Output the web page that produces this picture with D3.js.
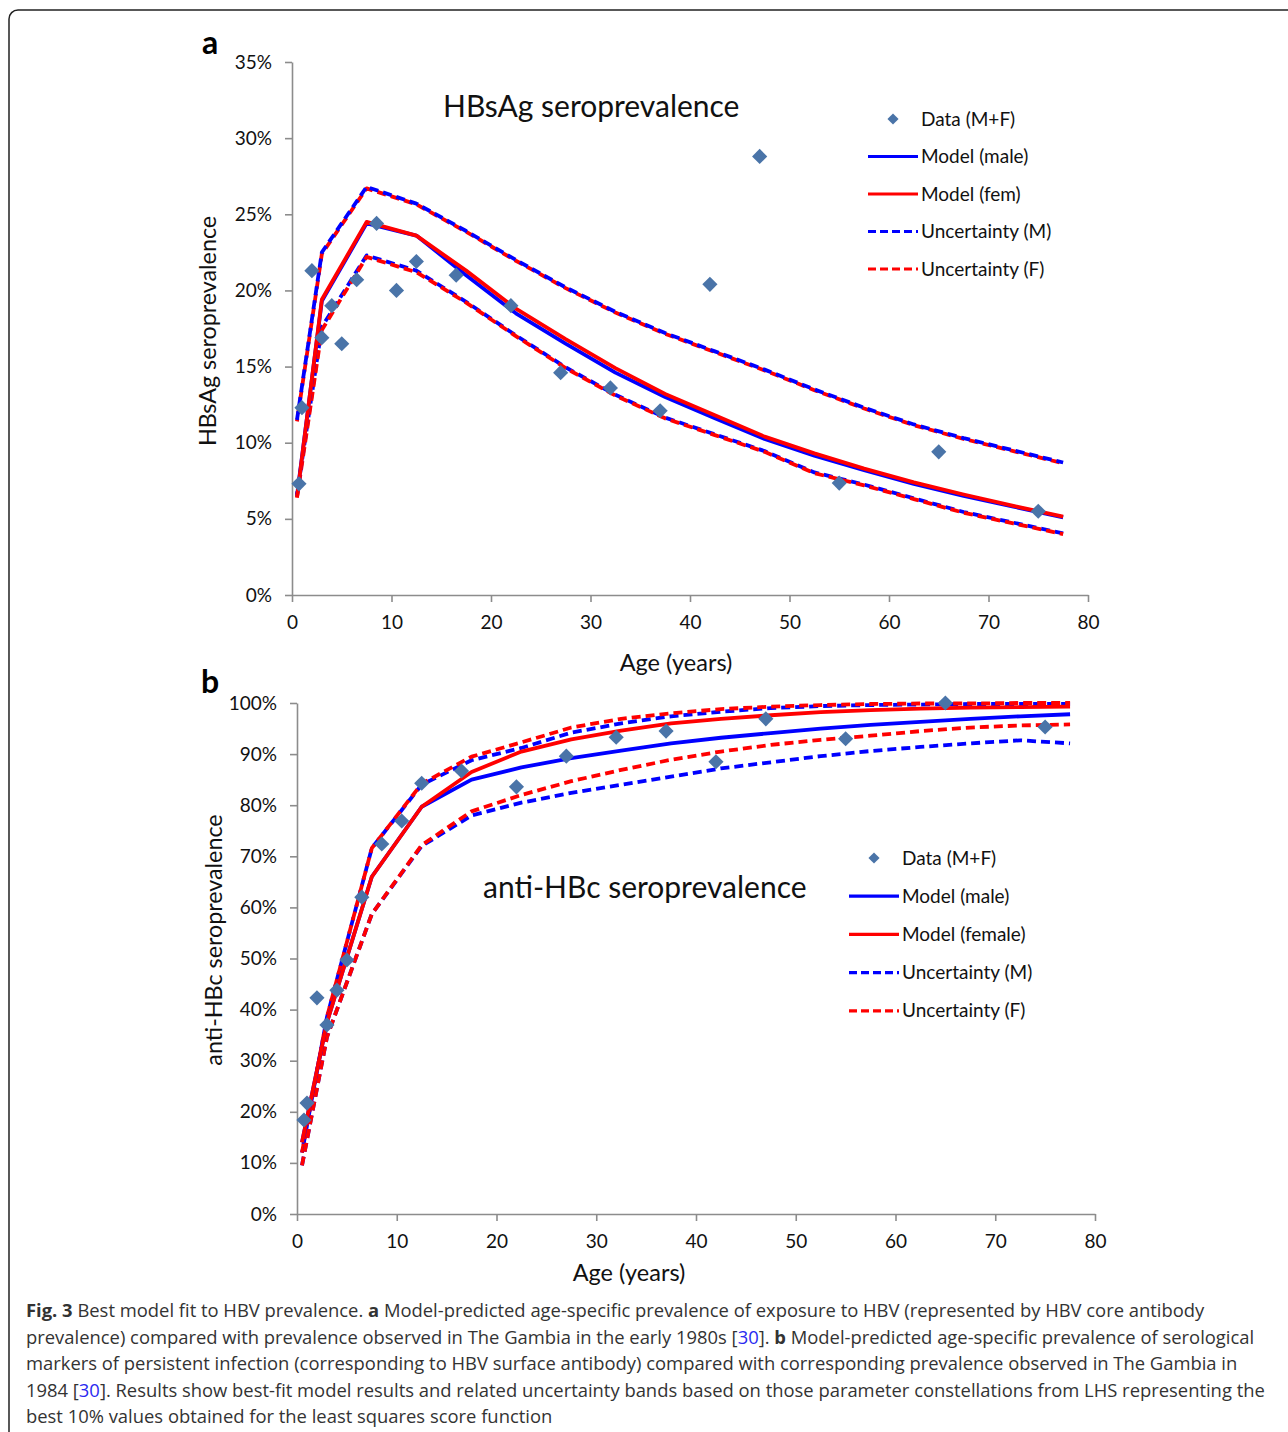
<!DOCTYPE html>
<html>
<head>
<meta charset="utf-8">
<script src="https://cdn.jsdelivr.net/npm/d3@7"></script>
<style>
  body { margin: 0; background: #fff; }
  svg text { font-family: Lato, "Open Sans", sans-serif; }
</style>
</head>
<body>
<div id="fig"></div>
<script>
// ---- data: panel a (HBsAg) ----
var ageData = [0.7, 1, 2, 3, 4, 5, 6.5, 8.5, 10.5, 12.5, 16.5, 22, 27, 32, 37, 42, 47, 55, 65, 75];
var hbsData = [7.3, 12.3, 21.3, 16.9, 19.0, 16.5, 20.7, 24.4, 20.0, 21.9, 21.0, 19.0, 14.6, 13.6, 12.1, 20.4, 28.8, 7.35, 9.4, 5.5];

var ageModel = [0.5, 3, 7.5, 12.5, 17.5, 22.5, 27.5, 32.5, 37.5, 42.5, 47.5, 52.5, 57.5, 62.5, 67.5, 72.5, 77.5];
var hbsMale = [6.5, 19.3, 24.4, 23.6, 21.0, 18.5, 16.5, 14.6, 13.0, 11.6, 10.25, 9.15, 8.2, 7.3, 6.5, 5.8, 5.1];
var hbsFem = [6.4, 19.4, 24.5, 23.6, 21.3, 18.8, 16.8, 14.9, 13.2, 11.8, 10.4, 9.3, 8.3, 7.4, 6.6, 5.85, 5.15];
var hbsUpM = [11.5, 22.5, 26.8, 25.7, 23.9, 22.0, 20.2, 18.6, 17.2, 16.0, 14.8, 13.5, 12.3, 11.2, 10.3, 9.5, 8.7];
var hbsUpF = [11.4, 22.4, 26.7, 25.65, 23.85, 21.95, 20.15, 18.55, 17.15, 15.95, 14.75, 13.45, 12.25, 11.15, 10.25, 9.45, 8.65];
var hbsLoM = [6.6, 17.6, 22.3, 21.3, 19.25, 17.05, 14.95, 13.15, 11.65, 10.55, 9.45, 8.05, 7.25, 6.35, 5.45, 4.75, 4.05];
var hbsLoF = [6.4, 17.4, 22.2, 21.2, 19.2, 17.0, 14.9, 13.1, 11.6, 10.5, 9.4, 8.0, 7.2, 6.3, 5.4, 4.7, 4.0];

// ---- data: panel b (anti-HBc) ----
var hbcData = [18.4, 21.7, 42.3, 37.0, 43.8, 49.7, 62.0, 72.4, 76.9, 84.3, 86.7, 83.6, 89.6, 93.3, 94.5, 88.5, 96.9, 93.0, 100, 95.3];
var hbcMale = [14, 37.5, 66, 79.7, 85.0, 87.4, 89.2, 90.7, 92.1, 93.2, 94.1, 95.0, 95.7, 96.3, 96.9, 97.4, 97.8];
var hbcFem = [14, 37.5, 66, 79.7, 86.5, 90.5, 92.9, 94.6, 96.0, 96.9, 97.6, 98.2, 98.6, 98.9, 99.1, 99.2, 99.3];
var hbcUpM = [12, 38.5, 71.6, 84.0, 88.8, 91.2, 94.2, 96.0, 97.4, 98.3, 99.0, 99.4, 99.6, 99.7, 99.8, 99.8, 99.8];
var hbcUpF = [12, 38.5, 71.6, 84.2, 89.5, 92.3, 95.2, 96.9, 98.0, 98.8, 99.3, 99.6, 99.8, 99.9, 99.9, 100, 100];
var hbcLoM = [9.5, 34.6, 58.7, 72.0, 78.0, 80.5, 82.4, 84.0, 85.6, 87.2, 88.4, 89.6, 90.6, 91.4, 92.1, 92.7, 92.1];
var hbcLoF = [9.5, 34.6, 58.7, 72.2, 78.8, 82.0, 84.7, 86.9, 88.9, 90.5, 91.8, 92.8, 93.6, 94.5, 95.2, 95.6, 95.8];

var xTicks = [0, 10, 20, 30, 40, 50, 60, 70, 80];
var legendA = ["Data (M+F)", "Model (male)", "Model (fem)", "Uncertainty (M)", "Uncertainty (F)"];
var legendB = ["Data (M+F)", "Model (male)", "Model (female)", "Uncertainty (M)", "Uncertainty (F)"];

var BLUE = "#0000ff", RED = "#ff0000", DOT = "#4a74a8", AXIS = "#8c8c8c";

var svg = d3.select("#fig").append("svg")
    .attr("width", 1288)
    .attr("height", 1432);

// figure frame
svg.append("rect")
    .attr("x", 9).attr("y", 10)
    .attr("width", 1300).attr("height", 1440)
    .attr("rx", 9)
    .attr("fill", "none")
    .attr("stroke", "#222")
    .attr("stroke-width", 1.5);

function panel(opt) {
    var x = d3.scaleLinear().domain([0, 80]).range([opt.x0, opt.x1]);
    var y = d3.scaleLinear().domain([0, opt.ymax]).range([opt.y0, opt.y1]);

    // axes
    var ya = svg.append("g")
        .attr("transform", "translate(" + opt.x0 + ",0)")
        .call(d3.axisLeft(y).tickValues(d3.range(0, opt.ymax + 0.001, opt.step))
            .tickFormat(function(d) { return Math.round(d) + "%"; })
            .tickSize(7).tickSizeOuter(0).tickPadding(13));
    var xa = svg.append("g")
        .attr("transform", "translate(0," + opt.y0 + ")")
        .call(d3.axisBottom(x).tickValues(xTicks).tickSize(7).tickSizeOuter(0).tickPadding(14));
    [ya, xa].forEach(function(a) {
        a.select(".domain").attr("stroke", AXIS).attr("stroke-width", 1.6);
        a.selectAll(".tick line").attr("stroke", AXIS).attr("stroke-width", 1.6);
        a.selectAll(".tick text").attr("fill", "#111").style("font-size", "19px")
            .style("font-family", "Lato, sans-serif");
    });

    // axis titles
    svg.append("text")
        .attr("x", opt.axx).attr("y", opt.axy)
        .attr("text-anchor", "middle")
        .style("font-size", "23.5px").attr("fill", "#111")
        .text("Age (years)");
    svg.append("text")
        .attr("transform", "translate(" + opt.ytx + "," + opt.yty + ") rotate(-90)")
        .attr("text-anchor", "middle")
        .style("font-size", "23.3px").attr("fill", "#111")
        .text(opt.ytitle);

    // panel letter + inner title
    svg.append("text")
        .attr("x", opt.letterX).attr("y", opt.letterY)
        .style("font-size", "32px").style("font-weight", "bold")
        .text(opt.letter);
    svg.append("text")
        .attr("x", opt.tx).attr("y", opt.ty)
        .style("font-size", "30px").attr("fill", "#111")
        .text(opt.title);

    // curves
    var line = d3.line()
        .x(function(d) { return x(d[0]); })
        .y(function(d) { return y(d[1]); });
    opt.series.forEach(function(s) {
        svg.append("path")
            .datum(ageModel.map(function(a, i) { return [a, s.values[i]]; }))
            .attr("d", line)
            .attr("fill", "none")
            .attr("stroke", s.color)
            .attr("stroke-width", 3.8)
            .attr("stroke-linejoin", "round")
            .attr("stroke-dasharray", s.dash ? "9,5" : null)
            .attr("stroke-dashoffset", s.offset || 0);
    });

    // data diamonds
    var diamond = d3.symbol().type(d3.symbolSquare).size(115);
    svg.append("g").selectAll("path")
        .data(ageData.map(function(a, i) { return [a, opt.data[i]]; }))
        .join("path")
        .attr("d", diamond)
        .attr("transform", function(d) { return "translate(" + x(d[0]) + "," + y(d[1]) + ") rotate(45)"; })
        .attr("fill", DOT);

    // legend
    var lg = svg.append("g");
    var styles = [null, {c: BLUE}, {c: RED}, {c: BLUE, dash: true}, {c: RED, dash: true}];
    opt.legend.forEach(function(label, i) {
        var yy = opt.ly + i * opt.lstep;
        if (i === 0) {
            lg.append("path")
                .attr("d", d3.symbol().type(d3.symbolSquare).size(62)())
                .attr("transform", "translate(" + (opt.lx - 28) + "," + yy + ") rotate(45)")
                .attr("fill", DOT);
        } else {
            lg.append("line")
                .attr("x1", opt.lx - 53).attr("x2", opt.lx - 3)
                .attr("y1", yy).attr("y2", yy)
                .attr("stroke", styles[i].c).attr("stroke-width", 3.2)
                .attr("stroke-dasharray", styles[i].dash ? "8,4" : null);
        }
        lg.append("text")
            .attr("x", opt.lx).attr("y", yy).attr("dy", "0.35em")
            .style("font-size", "19px").attr("fill", "#111")
            .text(label);
    });
}

panel({
    x0: 292, x1: 1088, y0: 595, y1: 62, ymax: 35, step: 5,
    data: hbsData,
    series: [
        {values: hbsUpF, color: RED, dash: true, offset: 6},
        {values: hbsUpM, color: BLUE, dash: true},
        {values: hbsLoM, color: BLUE, dash: true, offset: 6},
        {values: hbsLoF, color: RED, dash: true},
        {values: hbsMale, color: BLUE},
        {values: hbsFem, color: RED}
    ],
    axx: 676, axy: 671,
    ytitle: "HBsAg seroprevalence", ytx: 216, yty: 331,
    letter: "a", letterX: 202, letterY: 54,
    title: "HBsAg seroprevalence", tx: 443, ty: 117,
    legend: legendA, lx: 921, ly: 119, lstep: 37.5
});

panel({
    x0: 297, x1: 1095, y0: 1214, y1: 703, ymax: 100, step: 10,
    data: hbcData,
    series: [
        {values: hbcUpM, color: BLUE, dash: true, offset: 6},
        {values: hbcUpF, color: RED, dash: true},
        {values: hbcLoM, color: BLUE, dash: true},
        {values: hbcLoF, color: RED, dash: true},
        {values: hbcMale, color: BLUE},
        {values: hbcFem, color: RED}
    ],
    axx: 629, axy: 1281,
    ytitle: "anti-HBc seroprevalence", ytx: 222, yty: 940,
    letter: "b", letterX: 201, letterY: 693,
    title: "anti-HBc seroprevalence", tx: 483, ty: 898,
    legend: legendB, lx: 902, ly: 858, lstep: 38.2
});

// ---- caption ----
var caption = [
    [["Fig. 3", "b"], [" Best model fit to HBV prevalence. "], ["a", "b"], [" Model-predicted age-specific prevalence of exposure to HBV (represented by HBV core antibody"]],
    [["prevalence) compared with prevalence observed in The Gambia in the early 1980s ["], ["30", "l"], ["]. "], ["b", "b"], [" Model-predicted age-specific prevalence of serological"]],
    [["markers of persistent infection (corresponding to HBV surface antibody) compared with corresponding prevalence observed in The Gambia in"]],
    [["1984 ["], ["30", "l"], ["]. Results show best-fit model results and related uncertainty bands based on those parameter constellations from LHS representing the"]],
    [["best 10% values obtained for the least squares score function"]]
];
var cap = svg.append("g");
caption.forEach(function(parts, i) {
    var t = cap.append("text")
        .attr("x", 26).attr("y", 1317 + i * 26.6)
        .style("font-family", "'Open Sans', sans-serif")
        .style("font-size", "18.4px")
        .attr("fill", "#333");
    parts.forEach(function(p) {
        t.append("tspan")
            .style("font-weight", p[1] === "b" ? "bold" : null)
            .attr("fill", p[1] === "l" ? "#2a2af0" : null)
            .text(p[0]);
    });
});
</script>
</body>
</html>
